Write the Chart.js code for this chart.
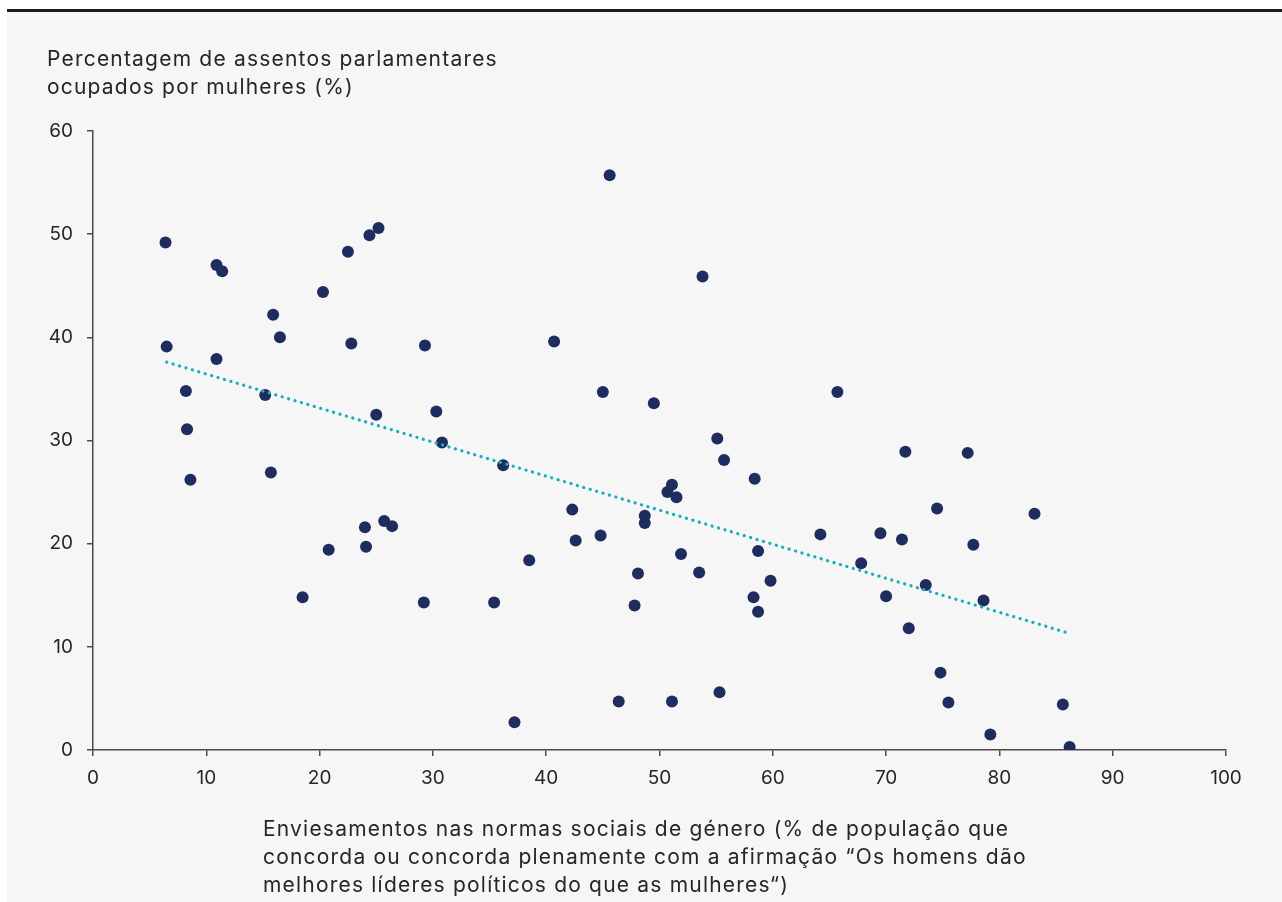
<!DOCTYPE html>
<html>
<head>
<meta charset="utf-8">
<script src="https://cdn.jsdelivr.net/npm/chart.js@4.4.1/dist/chart.umd.min.js"></script>
<style>
  html, body { margin:0; padding:0; background:#ffffff; }
  body { width:1282px; height:902px; position:relative; overflow:hidden; font-family: Inter, Lato, sans-serif; }
  #panel { position:absolute; left:7px; top:9px; right:0; bottom:0; background:#f6f6f6; border-top:3px solid #1c1c1c; }
  #wrap { position:absolute; left:0; top:0; width:1282px; height:902px; }
  .t { position:absolute; color:#262626; font-size:21px; letter-spacing:1.2px; line-height:28px; white-space:nowrap; }
</style>
</head>
<body>
<div id="panel"></div>
<div id="wrap"><canvas id="c" width="1282" height="902"></canvas></div>
<div class="t" id="ytitle" style="left:47px; top:45px;">Percentagem de assentos parlamentares<br>ocupados por mulheres (%)</div>
<div class="t" id="xtitle" style="left:263px; top:815px;">Enviesamentos nas normas sociais de género (% de população que<br>concorda ou concorda plenamente com a afirmação “Os homens dão<br>melhores líderes políticos do que as mulheres“)</div>
<script>
// Gender social norms bias (% agreeing men make better political leaders)
const biasX = [6.4, 6.5, 8.2, 8.3, 8.6, 10.9, 11.4, 10.9, 15.2, 15.9, 15.7, 16.5, 18.5, 20.3, 20.8, 22.5, 22.8, 24.0, 24.1, 24.4, 25.2, 25.0, 25.7, 26.4, 29.3, 29.2, 30.3, 30.8, 35.4, 36.2, 37.2, 38.5, 40.7, 42.3, 42.6, 44.8, 45.0, 45.6, 46.4, 47.8, 48.1, 48.7, 48.7, 49.5, 50.7, 51.1, 51.1, 51.5, 51.9, 53.5, 53.8, 55.1, 55.3, 55.7, 58.3, 58.4, 58.7, 58.7, 59.8, 64.2, 65.7, 67.8, 69.5, 70.0, 71.4, 71.7, 72.0, 73.5, 74.5, 74.8, 75.5, 77.2, 77.7, 78.6, 79.2, 83.1, 85.6, 86.2];
// Share of parliamentary seats held by women (%)
const seatsY = [49.2, 39.1, 34.8, 31.1, 26.2, 47.0, 46.4, 37.9, 34.4, 42.2, 26.9, 40.0, 14.8, 44.4, 19.4, 48.3, 39.4, 21.6, 19.7, 49.9, 50.6, 32.5, 22.2, 21.7, 39.2, 14.3, 32.8, 29.8, 14.3, 27.6, 2.7, 18.4, 39.6, 23.3, 20.3, 20.8, 34.7, 55.7, 4.7, 14.0, 17.1, 22.7, 22.0, 33.6, 25.0, 25.7, 4.7, 24.5, 19.0, 17.2, 45.9, 30.2, 5.6, 28.1, 14.8, 26.3, 19.3, 13.4, 16.4, 20.9, 34.7, 18.1, 21.0, 14.9, 20.4, 28.9, 11.8, 16.0, 23.4, 7.5, 4.6, 28.8, 19.9, 14.5, 1.5, 22.9, 4.4, 0.3];
// Linear trend line endpoints
const trendX = [6.5, 86.2];
const trendY = [37.6, 11.3];
// Axis ticks
const xTicks = [0, 10, 20, 30, 40, 50, 60, 70, 80, 90, 100];
const yTicks = [0, 10, 20, 30, 40, 50, 60];

const points = biasX.map((x, i) => ({x: x, y: seatsY[i]}));
const trend = trendX.map((x, i) => ({x: x, y: trendY[i]}));

const FONT = 'Inter, Lato, sans-serif';
const axisColor = '#4a4a4a';

new Chart(document.getElementById('c'), {
  type: 'scatter',
  data: {
    datasets: [
      {
        type: 'line',
        data: trend,
        borderColor: '#17aebd',
        borderWidth: 3.2,
        borderDash: [0.1, 6.6],
        borderCapStyle: 'round',
        pointRadius: 0,
        fill: false,
        tension: 0,
        order: 0
      },
      {
        data: points,
        backgroundColor: '#1f2d5e',
        borderColor: '#1f2d5e',
        borderWidth: 0,
        pointRadius: 6,
        pointHoverRadius: 6,
        order: 1
      }
    ]
  },
  options: {
    responsive: false,
    animation: false,
    events: [],
    layout: { padding: { top: 131, right: 56, left: 0, bottom: 0 } },
    plugins: { legend: { display: false }, tooltip: { enabled: false } },
    scales: {
      x: {
        type: 'linear',
        min: 0, max: 100,
        afterFit: (s) => { s.height = 152; },
        afterBuildTicks: (s) => { s.ticks = xTicks.map(v => ({value: v})); },
        grid: { display: true, drawOnChartArea: false, drawTicks: true, tickLength: 6, color: axisColor, lineWidth: 1.5 },
        border: { display: true, color: axisColor, width: 1.5 },
        ticks: { color: '#262626', font: { family: FONT, size: 19 }, padding: 11, maxRotation: 0 }
      },
      y: {
        type: 'linear',
        min: 0, max: 60,
        afterFit: (s) => { s.width = 93; },
        afterBuildTicks: (s) => { s.ticks = yTicks.map(v => ({value: v})); },
        grid: { display: true, drawOnChartArea: false, drawTicks: true, tickLength: 6, color: axisColor, lineWidth: 1.5 },
        border: { display: true, color: axisColor, width: 1.5 },
        ticks: { color: '#262626', font: { family: FONT, size: 19 }, padding: 14 }
      }
    }
  }
});
</script>
</body>
</html>
